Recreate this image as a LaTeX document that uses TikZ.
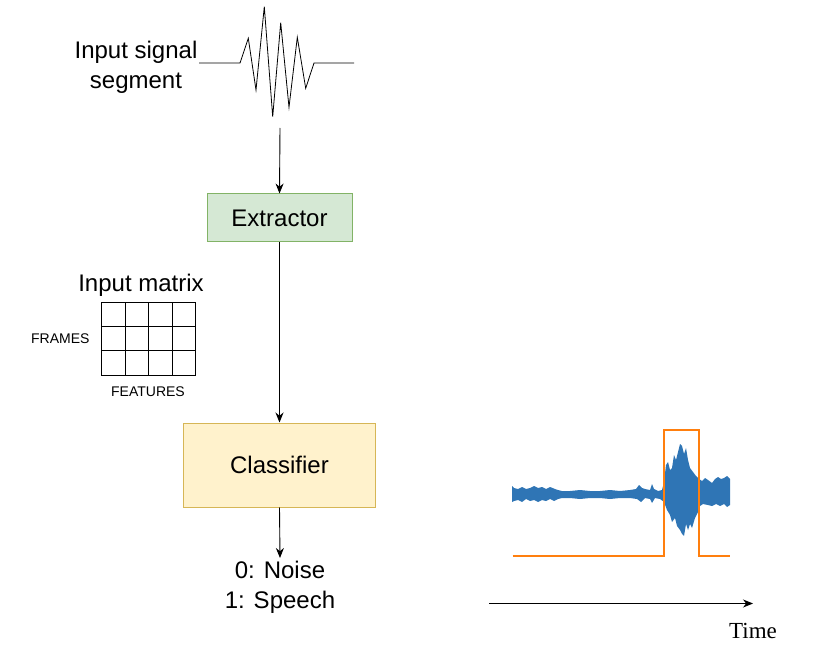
\documentclass[tikz,border=0pt]{standalone}
\usepackage{fontspec}
\setmainfont{Liberation Sans}
\newfontfamily\timesfont{Liberation Serif}
\usetikzlibrary{arrows.meta}
\definecolor{exfill}{HTML}{D5E8D4}
\definecolor{exdraw}{HTML}{82B366}
\definecolor{clfill}{HTML}{FFF2CC}
\definecolor{cldraw}{HTML}{D6B656}
\definecolor{wave}{HTML}{2F75B5}
\definecolor{vad}{HTML}{FF7F0E}
\tikzset{
  big/.style={font=\fontsize{24}{30}\selectfont},
  small/.style={font=\fontsize{14}{17}\selectfont},
  arr/.style={-{Stealth[length=10pt,width=8pt]}, line width=0.9pt},
  boxnode/.style={draw, line width=1pt, big, inner sep=0pt},
  gridline/.style={line width=0.9pt}
}
\begin{document}
\begin{tikzpicture}[x=1pt,y=-1pt]
\useasboundingbox (0,0) rectangle (823,666);
% input signal
\node[big, align=center] (lbl) at (136,67) {Input signal\\segment};
\draw[line width=0.8pt, line join=miter] (199,63) -- (240,63) -- (248.3,38.3) -- (256,90) -- (264.3,6.7) -- (272.7,116.7) -- (280.7,22.7) -- (289,107.3) -- (297.3,37.3) -- (305.7,88.3) -- (314,63) -- (354,63);
\coordinate (sigbot) at (280,128);
% boxes
\node[boxnode, fill=exfill, draw=exdraw, minimum width=145pt, minimum height=48pt] (ext) at (279.5,218) {Extractor};
\node[boxnode, fill=clfill, draw=cldraw, minimum width=192pt, minimum height=84pt] (cls) at (279.5,465) {Classifier};
\node[big, align=center, anchor=north] (out) at (280,558) {0: Noise\\1: Speech};
\draw[arr] (sigbot) -- (ext.north);
\draw[arr] (ext.south) -- (cls.north);
\draw[arr] (cls.south) -- (out.north);
% input matrix
\node[big] (imt) at (141,285) {Input matrix};
\draw[gridline] (101.7,302.7) rectangle (195.7,375);
\foreach \x in {125.2,148.7,172.2} \draw[gridline] (\x,302.7) -- (\x,375);
\foreach \y in {326.8,350.9} \draw[gridline] (101.7,\y) -- (195.7,\y);
\node[small, anchor=east] (frm) at (93,339) {FRAMES};
\node[small] (fea) at (148,392) {FEATURES};
% waveform plot
\fill[wave] (512,486) -- (514,488) -- (518,489) -- (522,487) -- (526,489) -- (530,488) -- (534,486) -- (538,488) -- (542,487) -- (546,489) -- (550,487) -- (555,489) -- (558,490) -- (562,491) -- (570,491) -- (580,490) -- (590,491) -- (600,491) -- (610,490) -- (620,491) -- (630,490) -- (636,489) -- (639,485) -- (642,488) -- (645,489) -- (650,490) -- (652,484) -- (654,489) -- (658,491) -- (662,490) -- (664,482) -- (666,465) -- (668,462) -- (670,470) -- (672,468) -- (674,455) -- (676,460) -- (678,452) -- (680,444) -- (682,446) -- (684,454) -- (686,448) -- (688,460) -- (690,468) -- (693,472) -- (696,476) -- (699,479) -- (702,481) -- (705,478) -- (708,480) -- (712,483) -- (715,479) -- (718,477) -- (721,479) -- (724,478) -- (727,476) -- (730,479)
  -- (730,505) -- (727,507) -- (724,504) -- (720,506) -- (716,504) -- (712,506) -- (708,505) -- (703,504) -- (700,506) -- (698,512) -- (695,518) -- (692,528) -- (690,524) -- (688,530) -- (686,524) -- (684,536) -- (682,534) -- (680,530) -- (677,526) -- (675,518) -- (672,522) -- (670,515) -- (667,510) -- (664,502) -- (660,499) -- (655,498) -- (652,503) -- (650,499) -- (645,498) -- (641,502) -- (637,499) -- (630,498) -- (620,498) -- (610,499) -- (600,498) -- (590,498) -- (580,499) -- (570,498) -- (562,498) -- (558,499) -- (554,501) -- (550,499) -- (546,501) -- (542,500) -- (538,502) -- (534,500) -- (530,501) -- (526,499) -- (522,502) -- (518,500) -- (514,501) -- (512,502) -- cycle;
\draw[vad, line width=2pt, line join=miter] (512.5,555.5) -- (664,555.5) -- (664,430) -- (699,430) -- (699,555.5) -- (729.5,555.5);
% time axis
\coordinate (tstart) at (489,603.5);
\coordinate (tend) at (753,603.5);
\draw[arr, line width=0.8pt] (tstart) -- (tend);
\node[font=\timesfont\fontsize{23}{28}\selectfont, anchor=base] (time) at (753,638) {Time};
\end{tikzpicture}
\end{document}
